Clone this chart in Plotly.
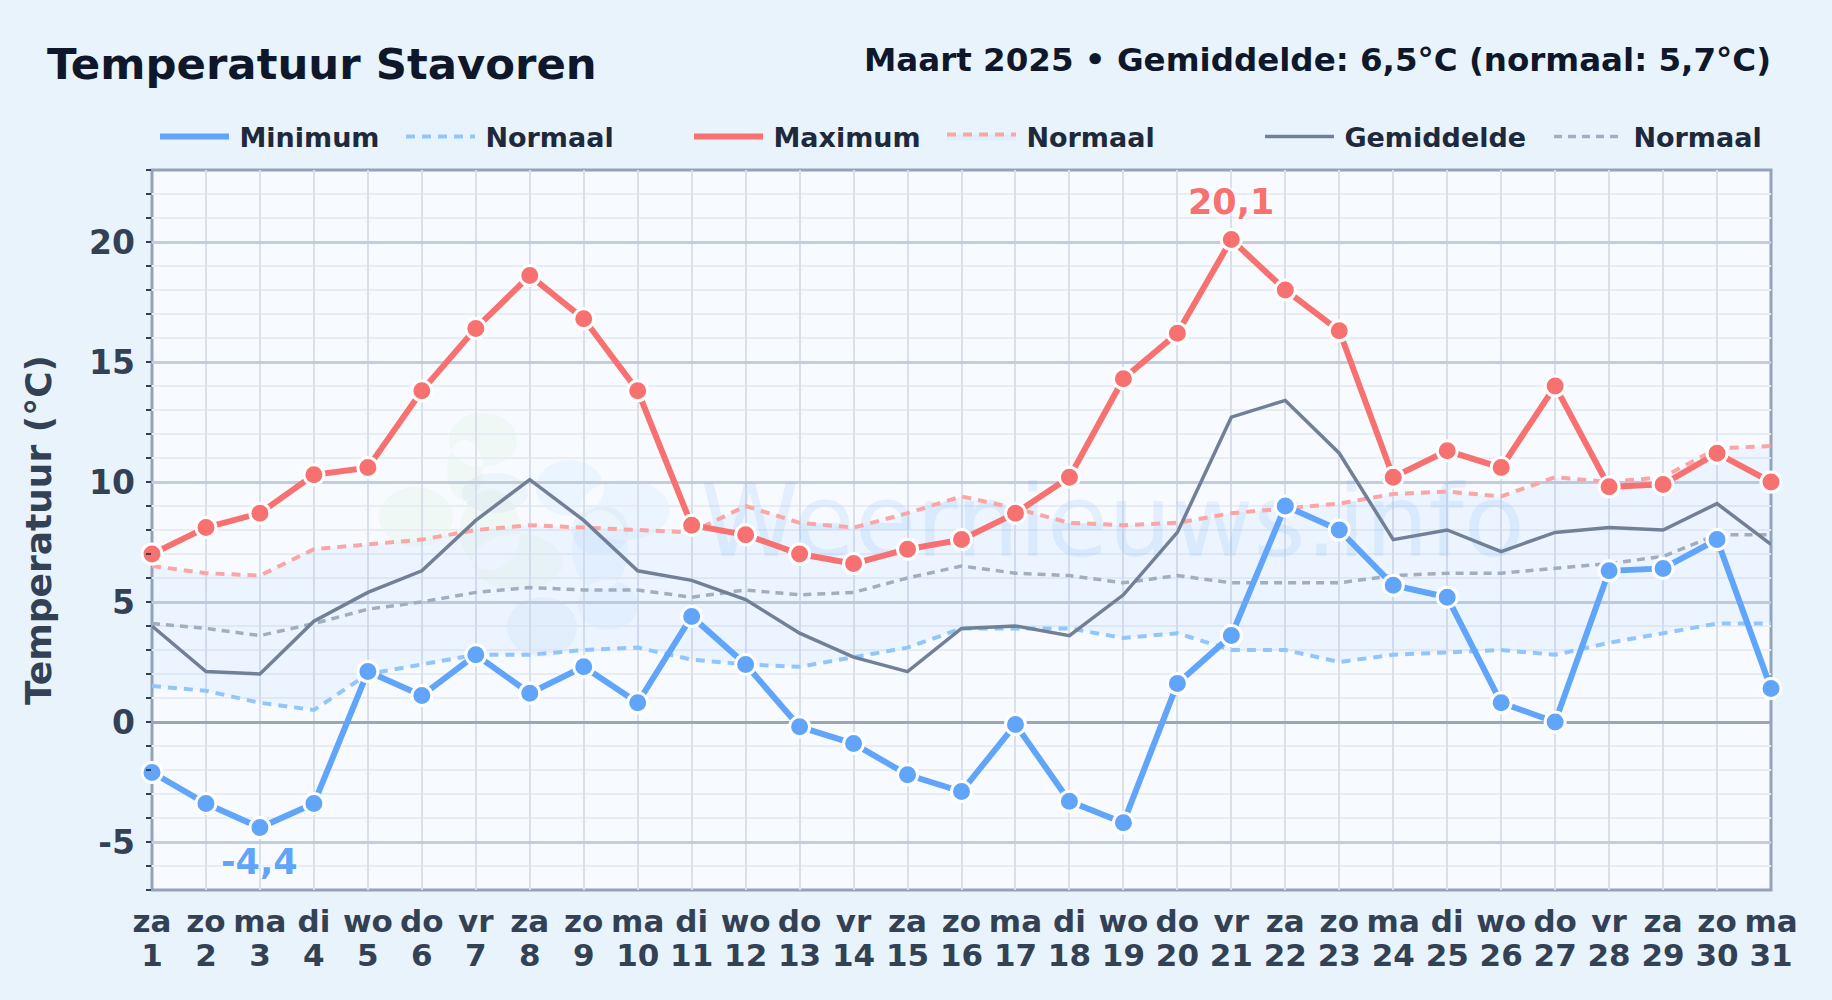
import plotly.graph_objects as go

days = list(range(1, 32))
weekdays = ["za","zo","ma","di","wo","do","vr"] * 4 + ["za","zo","ma"]
minimum = [-2.1,-3.4,-4.4,-3.4,2.1,1.1,2.8,1.2,2.3,0.8,4.4,2.4,-0.2,-0.9,-2.2,-2.9,-0.1,-3.3,-4.2,1.6,3.6,9.0,8.0,5.7,5.2,0.8,0.0,6.3,6.4,7.6,1.4]
maximum = [7.0,8.1,8.7,10.3,10.6,13.8,16.4,18.6,16.8,13.8,8.2,7.8,7.0,6.6,7.2,7.6,8.7,10.2,14.3,16.2,20.1,18.0,16.3,10.2,11.3,10.6,14.0,9.8,9.9,11.2,10.0]
mean = [4.0,2.1,2.0,4.2,5.4,6.3,8.4,10.1,8.4,6.3,5.9,5.1,3.7,2.7,2.1,3.9,4.0,3.6,5.3,7.9,12.7,13.4,11.2,7.6,8.0,7.1,7.9,8.1,8.0,9.1,7.4]
normal_min = [1.5,1.3,0.8,0.5,2.0,2.4,2.8,2.8,3.0,3.1,2.6,2.4,2.3,2.7,3.1,3.9,3.9,3.9,3.5,3.7,3.0,3.0,2.5,2.8,2.9,3.0,2.8,3.3,3.7,4.1,4.1]
normal_max = [6.5,6.2,6.1,7.2,7.4,7.6,8.0,8.2,8.1,8.0,7.9,9.0,8.3,8.1,8.7,9.4,8.9,8.3,8.2,8.3,8.7,8.9,9.1,9.5,9.6,9.4,10.2,10.0,10.2,11.4,11.5]
normal_mean = [4.1,3.9,3.6,4.1,4.7,5.0,5.4,5.6,5.5,5.5,5.2,5.5,5.3,5.4,6.0,6.5,6.2,6.1,5.8,6.1,5.8,5.8,5.8,6.1,6.2,6.2,6.4,6.6,6.9,7.8,7.8]
y_ticks = [-5, 0, 5, 10, 15, 20]

W, H = 1832, 1000
L, R, T, B = 152, 1771, 170, 890
FONT = "DejaVu Sans"
BLUE, RED, SLATE = "#60a5fa", "#f87171", "#718096"
px = lambda v: (v - L) / (R - L)
py = lambda v: (B - v) / (B - T)
dec = lambda v: f"{v:.1f}".replace(".", ",")

fig = go.Figure()
fig.add_trace(go.Scatter(x=[18.8], y=[7.95], mode="text", text=["Weernieuws.info"], showlegend=False, hoverinfo="skip",
                         textposition="middle center", textfont=dict(family=FONT, size=100, color="rgba(96,165,250,0.13)")))

def line(name, y, color, width, dash, legend, **kw):
    fig.add_trace(go.Scatter(x=days, y=y, mode="lines", name=name, legend=legend, cliponaxis=False,
                             line=dict(color=color, width=width, dash=dash), hoverinfo="skip", **kw))

line("\u2009Normaal", normal_min, "#93c5fd", 4, "9px,7px", "legend2")
line("\u2009Normaal", normal_max, "#fca5a5", 4, "9px,7px", "legend4", fill="tonexty", fillcolor="rgba(96,165,250,0.07)")
line("\u2009Normaal", normal_mean, "#a0aec0", 3.5, "8px,6px", "legend6")
line("\u2009Gemiddelde", mean, SLATE, 3.5, "solid", "legend5")
line("\u2009Minimum", minimum, BLUE, 6, "solid", "legend")
line("\u2009Maximum", maximum, RED, 6, "solid", "legend3")
for y, c in ((minimum, BLUE), (maximum, RED)):
    fig.add_trace(go.Scatter(x=days, y=y, mode="markers", showlegend=False, cliponaxis=False, hoverinfo="skip",
                             marker=dict(size=20, color=c, line=dict(color="white", width=3))))
# carries the weekday axis
fig.add_trace(go.Scatter(x=days, y=minimum, xaxis="x2", mode="none", showlegend=False, hoverinfo="skip"))

def ell(cx, cy, rx, ry):
    k = 0.5523
    X = lambda v: f"{px(v):.5f}"
    Y = lambda v: f"{py(v):.5f}"
    return (f"M{X(cx-rx)},{Y(cy)} C{X(cx-rx)},{Y(cy-k*ry)} {X(cx-k*rx)},{Y(cy-ry)} {X(cx)},{Y(cy-ry)} "
            f"C{X(cx+k*rx)},{Y(cy-ry)} {X(cx+rx)},{Y(cy-k*ry)} {X(cx+rx)},{Y(cy)} "
            f"C{X(cx+rx)},{Y(cy+k*ry)} {X(cx+k*rx)},{Y(cy+ry)} {X(cx)},{Y(cy+ry)} "
            f"C{X(cx-k*rx)},{Y(cy+ry)} {X(cx-rx)},{Y(cy+k*ry)} {X(cx-rx)},{Y(cy)} Z")

blobs = [
    ("rgba(190,225,170,0.10)", [(483,440,34,27),(465,470,18,30),(416,517,37,30),(518,562,45,28),(490,530,30,40)]),
    ("rgba(120,160,215,0.08)", [(495,493,33,20),(542,627,35,30),(600,530,28,25)]),
    ("rgba(120,190,250,0.09)", [(570,488,34,28),(625,510,45,30),(608,605,30,25),(600,550,28,40)]),
]
shapes = [dict(type="path", path=" ".join(ell(*e) for e in es), xref="paper", yref="paper",
               fillcolor=c, line=dict(width=0), layer="below") for c, es in blobs]
shapes.append(dict(type="rect", xref="paper", yref="paper", x0=0, x1=1, y0=0, y1=1, layer="below",
                   line=dict(color="#94a3b8", width=3)))

extremes = [
    dict(x=days[maximum.index(max(maximum))], y=max(maximum), text=dec(max(maximum)), yshift=38, color=RED),
    dict(x=days[minimum.index(min(minimum))], y=min(minimum), text=dec(min(minimum)), yshift=-34, color=BLUE),
]
annotations = [dict(x=e["x"], y=e["y"], xref="x", yref="y", text=e["text"], showarrow=False, yshift=e["yshift"],
                    font=dict(family=FONT, size=35, weight=700, color=e["color"], shadow="0 0 4px white, 0 0 4px white"))
               for e in extremes]
annotations.append(dict(x=1, y=py(60), xref="paper", yref="paper", xanchor="right", yanchor="middle", showarrow=False,
                        xshift=2, text="Maart 2025 • Gemiddelde: 6,5°C (normaal: 5,7°C)",
                        font=dict(family=FONT, size=32.5, weight=700, color="#0f172a")))

lg = dict(orientation="h", xanchor="left", yanchor="middle", y=py(137), bgcolor="rgba(0,0,0,0)", itemwidth=69,
          font=dict(family=FONT, size=27, weight=700, color="#1e293b"), borderwidth=0)
layout_legends = {n: dict(lg, x=px(v)) for n, v in
                  (("legend",155),("legend2",401),("legend3",689),("legend4",942),("legend5",1260),("legend6",1549))}

xtick = dict(family=FONT, size=31, weight=700, color="#334155")
fig.update_layout(
    width=W, height=H, autosize=False, margin=dict(l=L, r=W-R, t=T, b=H-B, autoexpand=False),
    paper_bgcolor="#e9f3fc", plot_bgcolor="#f7fbff", font=dict(family=FONT),
    title=dict(text="Temperatuur Stavoren", x=47/W, xanchor="left", y=1-64/H, yanchor="middle",
               font=dict(family=FONT, size=43.4, weight=700, color="#0f172a")),
    shapes=shapes, annotations=annotations, **layout_legends,
    xaxis=dict(range=[1, 31], tickmode="array", tickvals=days, ticktext=[str(d) for d in days],
               tickfont=xtick, ticks="", ticklabelstandoff=44, zeroline=False,
               showgrid=True, gridcolor="#d9e0ec", gridwidth=2),
    xaxis2=dict(range=[1, 31], overlaying="x", side="bottom", anchor="y", tickmode="array", tickvals=days,
                ticktext=weekdays, tickfont=xtick, ticks="", ticklabelstandoff=10, showgrid=False, zeroline=False),
    yaxis=dict(range=[-7, 23], tickmode="array", tickvals=y_ticks, ticktext=[str(v) for v in y_ticks],
               tickfont=dict(family=FONT, size=33, weight=700, color="#334155"), ticks="", ticklabelstandoff=16,
               zeroline=True, zerolinecolor="#9ba7b9", zerolinewidth=3,
               showgrid=True, gridcolor="#c2cddd", gridwidth=3,
               title=dict(text="Temperatuur (°C)", standoff=26, font=dict(family=FONT, size=36, weight=700, color="#334155")),
               minor=dict(dtick=1, tick0=0, ticks="outside", ticklen=5, tickcolor="#334155", tickwidth=2,
                          showgrid=True, gridcolor="#e8edf4", gridwidth=2)),
)
fig.write_html("out.html", config=dict(displayModeBar=False),
               post_script="document.body.style.margin='0';document.body.style.background='#e9f3fc';")
